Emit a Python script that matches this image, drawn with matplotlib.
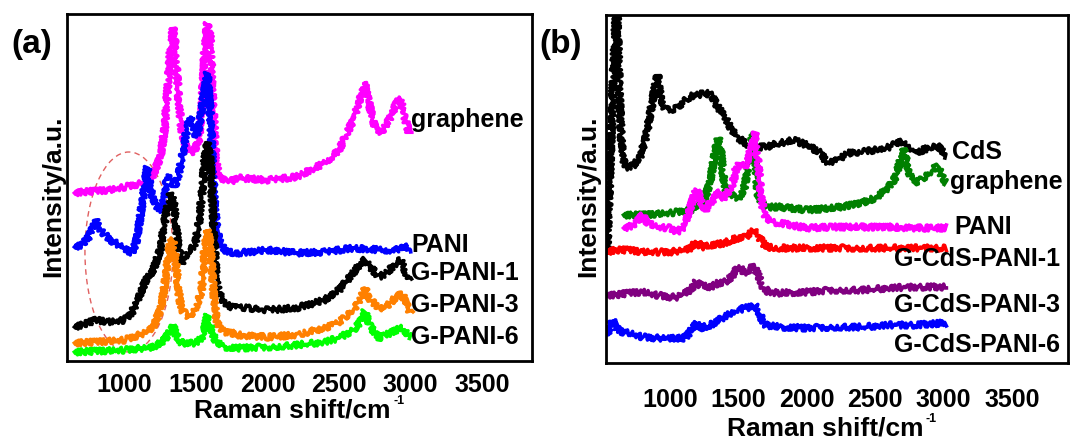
import matplotlib
matplotlib.use("Agg")
import matplotlib.pyplot as plt
from matplotlib.patches import Ellipse

plt.rcParams['font.family'] = ['Liberation Sans', 'DejaVu Sans']
plt.rcParams['font.weight'] = 'bold'

# ---------------------------------------
# DATA (a) - intensities in arbitrary units (offset stacked)
# ---------------------------------------
graphene_a_x = [650, 700, 800, 900, 1000, 1100, 1150, 1200, 1250, 1280, 1300, 1320, 1340, 1360, 1380, 1400,
                1430, 1460, 1490, 1520, 1540, 1560, 1580, 1600, 1620, 1640, 1660, 1700, 1750, 1800, 2000,
                2200, 2400, 2500, 2600, 2650, 2680, 2700, 2750, 2800, 2850, 2900, 2930, 2960, 2990]
graphene_a_y = [168, 169, 170, 171, 174, 177, 179, 186, 204, 231, 268, 311, 333, 311, 258, 231,
                214, 208, 211, 221, 251, 311, 338, 324, 258, 201, 184, 181, 180, 183, 181,
                184, 198, 211, 241, 264, 279, 264, 234, 228, 241, 257, 263, 244, 228]

pani_a_x = [650, 700, 750, 780, 800, 830, 900, 1000, 1050, 1080, 1110, 1140, 1160, 1180, 1200, 1230,
            1260, 1280, 1300, 1320, 1350, 1380, 1400, 1420, 1440, 1460, 1480, 1500, 1520, 1540, 1560,
            1580, 1600, 1620, 1640, 1660, 1700, 1750, 1800, 2000, 2200, 2400, 2600, 2800, 2900, 2950, 2990]
pani_a_y = [114, 116, 124, 134, 141, 131, 121, 113, 108, 118, 144, 174, 194, 174, 161, 154,
            151, 164, 184, 186, 174, 188, 201, 218, 234, 244, 238, 224, 234, 251, 271,
            288, 251, 184, 144, 121, 111, 108, 108, 111, 108, 109, 113, 111, 111, 116, 108]

gpani1_x = [650, 700, 800, 900, 1000, 1050, 1100, 1150, 1200, 1250, 1280, 1300, 1320, 1340, 1360, 1380,
            1400, 1420, 1450, 1480, 1500, 1520, 1540, 1560, 1580, 1600, 1620, 1640, 1660, 1700, 1750,
            1800, 2000, 2200, 2400, 2500, 2600, 2650, 2680, 2720, 2780, 2830, 2900, 2930, 2970, 2990]
gpani1_y = [34, 36, 41, 39, 41, 48, 64, 81, 91, 111, 138, 154, 166, 164, 138, 111,
            98, 104, 111, 114, 121, 138, 164, 201, 218, 201, 144, 88, 68, 58, 54,
            54, 51, 53, 61, 71, 88, 98, 101, 94, 84, 88, 98, 101, 88, 81]

gpani3_x = [650, 800, 1000, 1100, 1150, 1200, 1250, 1280, 1300, 1320, 1340, 1360, 1380, 1400, 1450, 1500,
            1540, 1560, 1580, 1600, 1620, 1640, 1660, 1700, 1750, 1800, 2000, 2200, 2400, 2500, 2600,
            2650, 2680, 2720, 2780, 2830, 2900, 2940, 2980, 3000]
gpani3_y = [18, 19, 21, 26, 29, 34, 51, 74, 98, 118, 121, 98, 68, 51, 44, 54,
            71, 111, 131, 118, 74, 44, 34, 29, 28, 26, 24, 26, 33, 39, 51,
            61, 73, 61, 53, 54, 64, 68, 54, 48]

gpani6_x = [650, 1000, 1200, 1280, 1320, 1340, 1360, 1400, 1500, 1550, 1580, 1600, 1640, 1700, 1800, 2000,
            2200, 2400, 2500, 2600, 2650, 2680, 2720, 2780, 2830, 2900, 2940, 2980, 3000]
gpani6_y = [9, 11, 14, 21, 31, 36, 26, 18, 18, 24, 46, 34, 19, 14, 13, 14,
            16, 19, 23, 31, 39, 50, 34, 23, 26, 31, 33, 26, 24]

# ---------------------------------------
# DATA (b)
# ---------------------------------------
cds_x = [540, 560, 580, 600, 605, 612, 620, 630, 645, 660, 680, 700, 740, 780, 820, 860, 890, 910, 930, 960,
         1000, 1060, 1100, 1150, 1200, 1260, 1300, 1350, 1400, 1450, 1500, 1550, 1600, 1700, 1800, 1850,
         1900, 2000, 2100, 2150, 2200, 2300, 2400, 2500, 2600, 2650, 2700, 2750, 2800, 2900, 2950, 3000, 3020]
cds_y = [110, 186, 270, 336, 370, 370, 326, 270, 220, 203, 196, 196, 198, 206, 223, 253, 276, 288, 266, 255,
         253, 255, 261, 267, 268, 270, 268, 256, 246, 233, 225, 220, 216, 216, 220, 221,
         223, 218, 210, 200, 201, 210, 211, 213, 216, 220, 221, 213, 210, 216, 218, 210, 206]

graphene_b_x = [660, 800, 1000, 1150, 1200, 1250, 1290, 1320, 1340, 1355, 1370, 1390, 1410, 1450, 1500, 1540,
                1570, 1590, 1605, 1620, 1640, 1670, 1700, 1800, 2000, 2200, 2400, 2500, 2600, 2650, 2690,
                2710, 2740, 2780, 2830, 2900, 2940, 2960, 2990, 3020]
graphene_b_y = [148, 148, 150, 153, 156, 163, 180, 203, 220, 225, 213, 186, 173, 168, 165, 173,
                196, 220, 230, 213, 170, 160, 156, 156, 153, 155, 160, 165, 176, 186, 206,
                215, 193, 180, 183, 190, 196, 196, 186, 180]

pani_b_x = [660, 700, 750, 780, 800, 830, 900, 1000, 1050, 1100, 1150, 1180, 1200, 1230, 1260, 1290, 1320,
            1350, 1380, 1420, 1460, 1480, 1510, 1540, 1560, 1590, 1610, 1625, 1640, 1660, 1680, 1700, 1750,
            1800, 2000, 2200, 2400, 2600, 2800, 3000, 3020]
pani_b_y = [135, 136, 140, 145, 148, 141, 136, 135, 131, 136, 156, 171, 173, 160, 153, 160, 163,
            173, 163, 170, 180, 193, 200, 195, 200, 213, 223, 230, 210, 176, 153, 146, 141,
            140, 135, 136, 136, 136, 135, 135, 135]

gcp1_x = [540, 600, 700, 800, 900, 1000, 1100, 1150, 1180, 1200, 1230, 1300, 1400, 1450, 1500, 1550, 1600,
          1620, 1650, 1680, 1700, 1800, 2000, 2500, 3000, 3020]
gcp1_y = [111, 113, 113, 111, 111, 111, 113, 115, 120, 121, 116, 118, 120, 123, 125, 126, 131,
          133, 126, 120, 116, 115, 115, 115, 115, 115]

gcp3_x = [540, 600, 700, 800, 900, 1000, 1050, 1100, 1150, 1190, 1220, 1300, 1350, 1400, 1450, 1480, 1510,
          1540, 1570, 1600, 1620, 1650, 1680, 1720, 1800, 2000, 2200, 2400, 2600, 2800, 2900, 3000, 3020]
gcp3_y = [68, 68, 70, 71, 68, 66, 66, 70, 73, 81, 78, 76, 80, 81, 86, 93, 96,
          90, 90, 96, 95, 86, 76, 71, 70, 71, 73, 73, 75, 76, 76, 76, 76]

gcp6_x = [540, 560, 580, 600, 650, 700, 800, 900, 1000, 1100, 1130, 1160, 1190, 1220, 1300, 1350, 1400,
          1450, 1500, 1550, 1600, 1620, 1650, 1680, 1700, 1800, 2000, 2200, 2400, 2600, 2800, 3000, 3020]
gcp6_y = [28, 36, 43, 36, 31, 30, 26, 25, 25, 25, 28, 35, 40, 35, 38, 43, 46,
          50, 53, 55, 56, 58, 51, 41, 38, 36, 35, 36, 36, 38, 38, 40, 40]

labels_a = ["graphene", "PANI", "G-PANI-1", "G-PANI-3", "G-PANI-6"]
labels_b = ["CdS", "graphene", "PANI", "G-CdS-PANI-1", "G-CdS-PANI-3", "G-CdS-PANI-6"]
xticks = [1000, 1500, 2000, 2500, 3000, 3500]

W, H = 1072, 441


def px(x, y):
    # pixel (from top-left) -> figure fraction
    return x / W, 1 - y / H


def noisy(line, lw):
    # spectra are drawn as a jagged band (detector noise look)
    line.set_linewidth(lw)
    line.set_sketch_params(scale=3.0, length=1.2, randomness=2)


fig = plt.figure(figsize=(W / 100, H / 100), dpi=100)

axa = fig.add_axes([67 / W, 1 - 361 / H, 465 / W, 347 / H])
axb = fig.add_axes([606 / W, 1 - 363 / H, 462 / W, 348.5 / H])

series_a = [(graphene_a_x, graphene_a_y, "#ff00ff"),
            (pani_a_x, pani_a_y, "#0000ff"),
            (gpani1_x, gpani1_y, "black"),
            (gpani3_x, gpani3_y, "#ff8000"),
            (gpani6_x, gpani6_y, "#00ff00")]
for x, y, c in series_a:
    ln, = axa.plot(x, y, color=c)
    noisy(ln, 2.6)

axa.add_patch(Ellipse((1031, 109), 615, 200, fill=False, ls=(0, (4, 3)),
                      ec="#e06060", lw=1.0))

series_b = [(cds_x, cds_y, "black"),
            (graphene_b_x, graphene_b_y, "#008000"),
            (pani_b_x, pani_b_y, "#ff00ff"),
            (gcp1_x, gcp1_y, "#ff0000"),
            (gcp3_x, gcp3_y, "#800080"),
            (gcp6_x, gcp6_y, "#0000ff")]
for x, y, c in series_b:
    ln, = axb.plot(x, y, color=c)
    noisy(ln, 2.6)

axa.set_xlim(598, 3850)
axa.set_ylim(0, 347)
axb.set_xlim(532, 3909)
axb.set_ylim(0, 348.5)

for ax, pad in [(axa, 8.5), (axb, 18)]:
    ax.set_xticks(xticks)
    ax.set_yticks([])
    ax.tick_params(axis="x", length=0, pad=pad, labelsize=18)
    for s in ax.spines.values():
        s.set_linewidth(2)

# labels of the curves
for txt, yy in zip(labels_a, [120, 245, 273, 305, 337]):
    fig.text(*px(411, yy), txt, fontsize=18, va="center", ha="left")
for txt, xx, yy in zip(labels_b, [952, 950, 954, 894, 894, 894], [152, 182, 227, 259, 305, 345]):
    fig.text(*px(xx, yy), txt, fontsize=18, va="center", ha="left")

fig.text(*px(32, 45), "(a)", fontsize=24, ha="center", va="center")
fig.text(*px(561, 45), "(b)", fontsize=24, ha="center", va="center")

# x labels with small superscript
for cx, cy in [(292, 411), (825, 429)]:
    fig.text(*px(cx, cy), "Raman shift/cm", fontsize=19, ha="center", va="center")
    fig.text(*px(cx + 101, cy - 10), "-1", fontsize=9, ha="left", va="center")

fig.text(*px(53, 196), "Intensity/a.u.", fontsize=19, ha="center", va="center", rotation=90)
fig.text(*px(588, 196), "Intensity/a.u.", fontsize=19, ha="center", va="center", rotation=90)

fig.savefig("out.png", dpi=100)
